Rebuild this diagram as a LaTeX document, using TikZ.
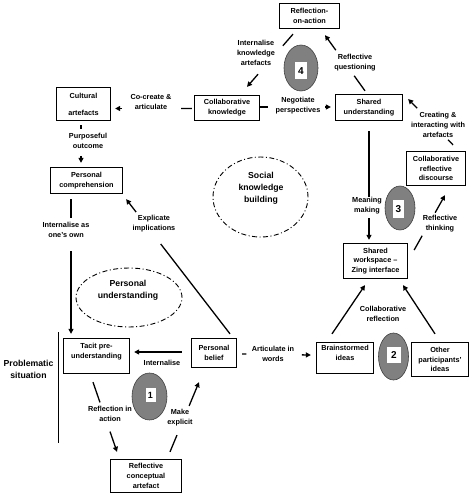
\documentclass[tikz,border=0pt]{standalone}
\usepackage{fontspec}
\setmainfont{Liberation Sans}
\usetikzlibrary{arrows.meta,calc,shapes.geometric}
\newcommand\gapconn[4]{%
  \draw[ln] (#1) -- ($(#1)!#3!(#2)$);
  \draw[arr] ($(#1)!#4!(#2)$) -- (#2);}
\begin{document}
\begin{tikzpicture}[x=1pt,y=-1pt,
  font=\bfseries\fontsize{7.3}{9.8}\selectfont,
  box/.style={draw, line width=1.3pt, align=center, inner sep=1pt, fill=white},
  lbl/.style={align=center, inner sep=1pt},
  biglbl/.style={align=center, inner sep=1pt, font=\bfseries\fontsize{8.7}{12.2}\selectfont},
  ln/.style={line width=1.3pt},
  arr/.style={line width=1.3pt, -{Triangle[length=5pt,width=5pt]}},
  oval/.style={ellipse, draw=black!75, line width=0.6pt, fill=black!50, inner sep=0pt},
  numsq/.style={fill=white, inner sep=0pt, font=\bfseries\fontsize{10}{10}\selectfont},
  dd/.style={ellipse, draw, line width=0.9pt, dash pattern=on 5pt off 2.5pt on 1pt off 2.5pt, inner sep=0pt}]
\useasboundingbox (0,0) rectangle (474,497);

% boxes
\node[box, minimum width=60pt, minimum height=25pt] (ROA) at (309.5,16) {Reflection-\\on-action};
\node[box, minimum width=54pt, minimum height=33pt] (CA) at (83.5,104) {Cultural\\[7pt]artefacts};
\node[box, minimum width=65pt, minimum height=25pt] (CK) at (227,108) {Collaborative\\knowledge};
\node[box, minimum width=67pt, minimum height=26pt] (SU) at (369,107.5) {Shared\\understanding};
\node[box, minimum width=59pt, minimum height=34pt] (CRD) at (436,168.5) {Collaborative\\reflective\\discourse};
\node[box, minimum width=72pt, minimum height=26pt] (PC) at (86.5,180.5) {Personal\\comprehension};
\node[box, minimum width=64pt, minimum height=35pt] (SW) at (375.5,261) {Shared\\workspace --\\Zing interface};
\node[box, minimum width=66pt, minimum height=35pt] (TPU) at (96.5,356) {Tacit pre-\\understanding\\\mbox{}};
\node[box, minimum width=45pt, minimum height=29pt] (PB) at (214,353) {Personal\\belief};
\node[box, minimum width=71pt, minimum height=33pt] (RCA) at (146,476) {Reflective\\conceptual\\artefact};
\node[box, minimum width=57pt, minimum height=31pt] (BI) at (345,358) {Brainstormed\\ideas\\\mbox{}};
\node[box, minimum width=57pt, minimum height=34pt] (OPI) at (440,359.5) {Other\\participants'\\ideas};

% connector end points
\coordinate (c1s) at ($(ROA.south)+(-16.5,5)$);
\coordinate (c1e) at ($(CK.north)+(20,-8)$);
\coordinate (c2s) at ($(SU.north)+(-4,-3)$);
\coordinate (c2e) at ($(ROA.south)+(15.5,6)$);
\coordinate (c3s) at ($(CK.west)+(-2,0.5)$);
\coordinate (c3e) at ($(CA.east)+(4,4.5)$);
\coordinate (c4s) at ($(CK.east)+(0,-1)$);
\coordinate (c4e) at ($(SU.west)+(-4,-0.5)$);
\coordinate (c5s) at ($(CRD.north)+(17,-6)$);
\coordinate (c5e) at ($(SU.east)+(5,-8.5)$);
\coordinate (c6s) at ($(SU.south)+(0,10)$);
\coordinate (c6e) at ($(SW.north)+(-6.5,-3)$);
\coordinate (c7s) at ($(SW.east)+(6,-11)$);
\coordinate (c7e) at ($(CRD.south)+(9,9)$);
\coordinate (c8s) at ($(BI.north)+(-13,-8)$);
\coordinate (c8e) at ($(SW.south)+(-10.5,6)$);
\coordinate (c9s) at ($(OPI.north)+(-5,-8)$);
\coordinate (c9e) at ($(SW.south)+(27.5,6)$);
\coordinate (c10s) at ($(PB.east)+(5,1)$);
\coordinate (c10e) at ($(BI.west)+(-5,-3)$);
\coordinate (c11s) at ($(PB.west)+(-9,-1)$);
\coordinate (c11e) at ($(TPU.east)+(4,-4)$);
\coordinate (c12s) at ($(TPU.south)+(-3.5,8)$);
\coordinate (c12e) at ($(RCA.north)+(-29,-7)$);
\coordinate (c13s) at ($(RCA.north)+(24,-7)$);
\coordinate (c13e) at ($(PB.south)+(-15,14)$);
\coordinate (c14s) at ($(PB.north)+(16,-4)$);
\coordinate (c14e) at ($(PC.south east)+(3,5)$);
\coordinate (c15s) at ($(PC.south)+(-15.5,5)$);
\coordinate (c15e) at ($(TPU.north)+(-25.5,-4)$);
\coordinate (c16s) at ($(CA.south)+(-2.5,4)$);
\coordinate (c16e) at ($(PC.north)+(-5.5,-4)$);

% connectors
\gapconn{c1s}{c1e}{0.22}{0.76}
\gapconn{c2s}{c2e}{0.27}{0.73}
\gapconn{c3s}{c3e}{0.14}{0.91}
\gapconn{c4s}{c4e}{0.11}{0.92}
\gapconn{c5s}{c5e}{0.11}{0.80}
\gapconn{c6s}{c6e}{0.61}{0.80}
\gapconn{c7s}{c7e}{0.26}{0.68}
\draw[arr] (c8s) -- (c8e);
\draw[arr] (c9s) -- (c9e);
\gapconn{c10s}{c10e}{0.06}{0.87}
\draw[arr] (c11s) -- (c11e);
\gapconn{c12s}{c12e}{0.29}{0.71}
\gapconn{c13s}{c13e}{0.24}{0.66}
\gapconn{c14s}{c14e}{0.667}{0.904}
\gapconn{c15s}{c15e}{0.14}{0.385}
\gapconn{c16s}{c16e}{0.105}{0.816}

% connector labels
\node[lbl] (l1) at (256,53) {Internalise\\knowledge\\artefacts};
\node[lbl] (l2) at (355,63) {Reflective\\questioning};
\node[lbl] (l3) at (151,102) {Co-create \&\\articulate};
\node[lbl] (l4) at (298,106) {Negotiate\\perspectives};
\node[lbl] (l5) at (438,125) {Creating \&\\interacting with\\artefacts};
\node[lbl] (l6) at (367,206) {Meaning\\making};
\node[lbl] (l7) at (440,224) {Reflective\\thinking};
\node[lbl] (l8) at (383,314) {Collaborative\\reflection};
\node[lbl] (l9) at (273,354) {Articulate in\\words};
\node[lbl] (l10) at (162,363) {Internalise};
\node[lbl] (l11) at (110,414) {Reflection in\\action};
\node[lbl] (l12) at (180,417.5) {Make\\explicit};
\node[lbl] (l13) at (154,224) {Explicate\\implications};
\node[lbl] (l14) at (66,230) {Internalise as\\one's own};
\node[lbl] (l15) at (88,141) {Purposeful\\outcome};

% numbered ovals
\node[oval, minimum width=34pt, minimum height=46pt] (E4) at (301,68) {};
\node[numsq, minimum width=12pt, minimum height=17pt] (N4) at (301,71) {4};
\node[oval, minimum width=30pt, minimum height=44pt] (E3) at (400,208) {};
\node[numsq, minimum width=11pt, minimum height=18pt] (N3) at (398.5,209) {3};
\node[oval, minimum width=30pt, minimum height=47pt] (E2) at (393.5,356.5) {};
\node[numsq, minimum width=14pt, minimum height=16pt] (N2) at (394,355) {2};
\node[oval, minimum width=35pt, minimum height=47pt] (E1) at (149.5,396.5) {};
\node[numsq, minimum width=10pt, minimum height=14pt, font=\bfseries\fontsize{9}{9}\selectfont] (N1) at (150.5,395) {1};

% dash-dotted regions
\node[dd, minimum width=106pt, minimum height=59pt] (PUe) at (129,297.5) {};
\node[biglbl] (PUt) at (128,290) {Personal\\understanding};
\node[dd, minimum width=95pt, minimum height=80pt] (SKBe) at (260.5,197) {};
\node[biglbl] (SKBt) at (261,188.5) {Social\\knowledge\\building};

% problematic situation
\node[biglbl] (PS) at (28.5,369) {Problematic\\situation};
\draw[ln] (58.5,332) -- (58.5,443);
\end{tikzpicture}
\end{document}
